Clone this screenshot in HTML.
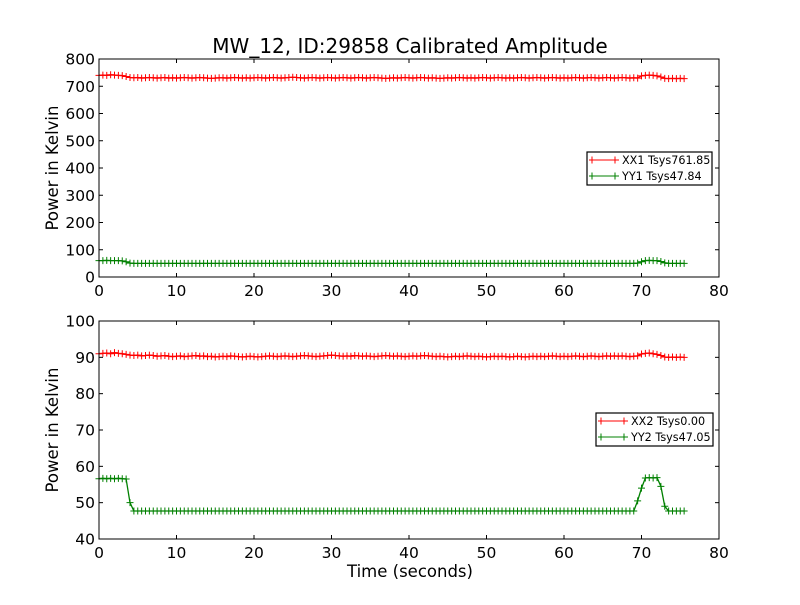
<!DOCTYPE html>
<html><head><meta charset="utf-8"><style>
body{margin:0;background:#fff;width:800px;height:600px;overflow:hidden}
svg{font-family:"DejaVu Sans","Liberation Sans",sans-serif}
</style></head><body>
<svg id="chart" width="800" height="600">
<rect width="800" height="600" fill="#fff"/>
<text x="410" y="53" font-size="20" text-anchor="middle">MW_12, ID:29858 Calibrated Amplitude</text>
<g id="top"></g>
<g id="bot"></g>
<text x="410" y="577" font-size="16.5" text-anchor="middle">Time (seconds)</text>
</svg>
<script>
const xTicks=[0,10,20,30,40,50,60,70,80];
const topYTicks=[0,100,200,300,400,500,600,700,800];
const botYTicks=[40,50,60,70,80,90,100];
const tStep=0.5;
const xx1=[740,741,740,742,741,740,739,736,
732,731,732,730,731,732,731,730,731,732,730,731,
730,731,732,731,730,731,732,731,730,729,730,731,
731,730,731,732,731,730,731,730,731,732,731,730,
731,732,731,730,731,732,733,732,731,730,731,732,
731,730,731,732,731,730,731,732,731,730,731,732,
731,730,731,732,731,730,729,730,731,730,731,732,
731,730,731,732,731,730,731,730,729,730,731,730,
731,732,731,730,731,730,731,732,731,730,731,732,
731,730,731,730,731,732,731,730,731,732,731,730,
731,732,731,730,731,730,731,732,731,730,731,732,
731,730,731,732,731,730,731,732,731,730,731,730,
738,740,741,740,738,734,
729,728,729,728,729,728];
const yy1=[60,60,61,60,60,60,59,56,51,
50,50,50,50,50,50,50,50,50,50,50,50,50,50,50,50,50,50,50,50,50,50,50,50,50,50,50,50,50,50,
50,50,50,50,50,50,50,50,50,50,50,50,50,50,50,50,50,50,50,50,50,50,50,50,50,50,50,50,50,50,
50,50,50,50,50,50,50,50,50,50,50,50,50,50,50,50,50,50,50,50,50,50,50,50,50,50,50,50,50,50,
50,50,50,50,50,50,50,50,50,50,50,50,50,50,50,50,50,50,50,50,50,50,50,50,50,50,50,50,50,50,
50,50,50,50,50,50,50,50,50,50,
51,56,60,61,60,60,57,52,50,50,50,50,50];
const xx2=[91.0,91.1,91.2,91.0,91.3,91.1,91.0,90.8,
90.6,90.5,90.6,90.4,90.5,90.6,90.5,90.3,90.4,90.5,90.3,90.2,
90.3,90.4,90.2,90.3,90.4,90.5,90.3,90.4,90.2,90.3,90.1,90.2,
90.3,90.2,90.4,90.3,90.2,90.1,90.2,90.3,90.2,90.1,90.2,90.3,
90.4,90.3,90.2,90.3,90.4,90.3,90.2,90.3,90.4,90.5,90.4,90.3,
90.2,90.3,90.4,90.5,90.6,90.5,90.4,90.3,90.4,90.3,90.5,90.4,
90.3,90.4,90.3,90.2,90.3,90.4,90.5,90.4,90.3,90.4,90.3,90.2,
90.3,90.4,90.3,90.4,90.5,90.4,90.3,90.2,90.3,90.2,90.1,90.2,
90.3,90.2,90.3,90.4,90.3,90.2,90.3,90.2,90.1,90.2,90.3,90.2,
90.3,90.2,90.1,90.2,90.3,90.2,90.1,90.2,90.3,90.2,90.3,90.2,
90.3,90.4,90.3,90.2,90.3,90.2,90.3,90.4,90.3,90.2,90.3,90.4,
90.3,90.2,90.3,90.4,90.3,90.4,90.3,90.4,90.3,90.2,90.3,90.4,
90.9,91.1,91.2,91.0,90.8,90.5,
90.1,90.0,90.1,90.0,90.1,90.0];
const yy2=[56.6,56.7,56.6,56.7,56.6,56.7,56.6,56.5,50.0,
47.7,47.7,47.7,47.7,47.7,47.7,47.7,47.7,47.7,47.7,
47.7,47.7,47.7,47.7,47.7,47.7,47.7,47.7,47.7,47.7,
47.7,47.7,47.7,47.7,47.7,47.7,47.7,47.7,47.7,47.7,
47.7,47.7,47.7,47.7,47.7,47.7,47.7,47.7,47.7,47.7,
47.7,47.7,47.7,47.7,47.7,47.7,47.7,47.7,47.7,47.7,
47.7,47.7,47.7,47.7,47.7,47.7,47.7,47.7,47.7,47.7,
47.7,47.7,47.7,47.7,47.7,47.7,47.7,47.7,47.7,47.7,
47.7,47.7,47.7,47.7,47.7,47.7,47.7,47.7,47.7,47.7,
47.7,47.7,47.7,47.7,47.7,47.7,47.7,47.7,47.7,47.7,
47.7,47.7,47.7,47.7,47.7,47.7,47.7,47.7,47.7,47.7,
47.7,47.7,47.7,47.7,47.7,47.7,47.7,47.7,47.7,47.7,
47.7,47.7,47.7,47.7,47.7,47.7,47.7,47.7,47.7,47.7,
47.7,47.7,47.7,47.7,47.7,47.7,47.7,47.7,47.7,47.7,
50.5,54.0,56.8,56.9,56.8,56.9,54.5,49.0,47.7,47.7,47.7,47.7,47.7];
const NS="http://www.w3.org/2000/svg";
function mk(tag,attrs,parent){const e=document.createElementNS(NS,tag);for(const k in attrs)e.setAttribute(k,attrs[k]);parent.appendChild(e);return e;}
function panel(g,top,bottom,ymin,ymax,yTicks,s1,s2,c1,c2,l1,l2,legX,legY,legW){
  const L=99,R=719;
  const xs=v=>L+(v-0)/(80-0)*(R-L);
  const ys=v=>bottom-(v-ymin)/(ymax-ymin)*(bottom-top);
  [[s1,c1],[s2,c2]].forEach(([s,c],si)=>{
    const pts=s.map((v,i)=>xs(i*tStep).toFixed(2)+","+ys(v).toFixed(2)).join(" ");
    const pl=mk("polyline",{points:pts,fill:"none",stroke:c,"stroke-width":1.3},g);
    
    
    let d="";
    s.forEach((v,i)=>{const x=xs(i*tStep),y=ys(v);d+=`M${(x-3.5).toFixed(2)} ${y.toFixed(2)}h7M${x.toFixed(2)} ${(y-3.5).toFixed(2)}v7`;});
    const mp=mk("path",{d:d,stroke:c,"stroke-width":1,fill:"none"},g);
    
    
  });
  const fr=mk("rect",{x:L,y:top,width:R-L,height:bottom-top,fill:"none",stroke:"#000","stroke-width":1},g);
  
  
  xTicks.forEach(t=>{const x=xs(t);
    mk("line",{x1:x,x2:x,y1:bottom,y2:bottom-4,stroke:"#000"},g);
    mk("line",{x1:x,x2:x,y1:top,y2:top+4,stroke:"#000"},g);
    const tx=mk("text",{x:x,y:bottom+19,"font-size":15.5,"text-anchor":"middle"},g);tx.textContent=t;
    
    });
  yTicks.forEach(t=>{const y=ys(t);
    mk("line",{x1:L,x2:L+4,y1:y,y2:y,stroke:"#000"},g);
    mk("line",{x1:R,x2:R-4,y1:y,y2:y,stroke:"#000"},g);
    const tx=mk("text",{x:L-4,y:y+5.5,"font-size":15.5,"text-anchor":"end"},g);tx.textContent=t;
    
    });
  const yt=mk("text",{x:0,y:0,"font-size":16.5,"text-anchor":"middle",transform:`translate(58,${(top+bottom)/2}) rotate(-90)`},g);
  yt.textContent="Power in Kelvin";
  
  
  const lg=mk("g",{},g);
  
  
  mk("rect",{x:legX,y:legY,width:legW,height:33,fill:"#fff",stroke:"#000","stroke-width":1.2},lg);
  [[l1,c1],[l2,c2]].forEach(([lab,c],i)=>{const y=legY+8+i*16;
    mk("line",{x1:legX+5,x2:legX+28,y1:y,y2:y,stroke:c},lg);
    mk("path",{d:`M${legX+2} ${y}h7M${legX+5} ${y-3.5}v7M${legX+25} ${y}h7M${legX+28} ${y-3.5}v7`,stroke:c,fill:"none"},lg);
    const tx=mk("text",{x:legX+35,y:y+4,"font-size":11.2},lg);tx.textContent=lab;
    
    });
}
panel(document.getElementById("top"),59,277,0,800,topYTicks,xx1,yy1,"#ff0000","#008000","XX1 Tsys761.85","YY1 Tsys47.84",587,152,125);
panel(document.getElementById("bot"),321,539,40,100,botYTicks,xx2,yy2,"#ff0000","#008000","XX2 Tsys0.00","YY2 Tsys47.05",596,413,117);
</script>
</body></html>
